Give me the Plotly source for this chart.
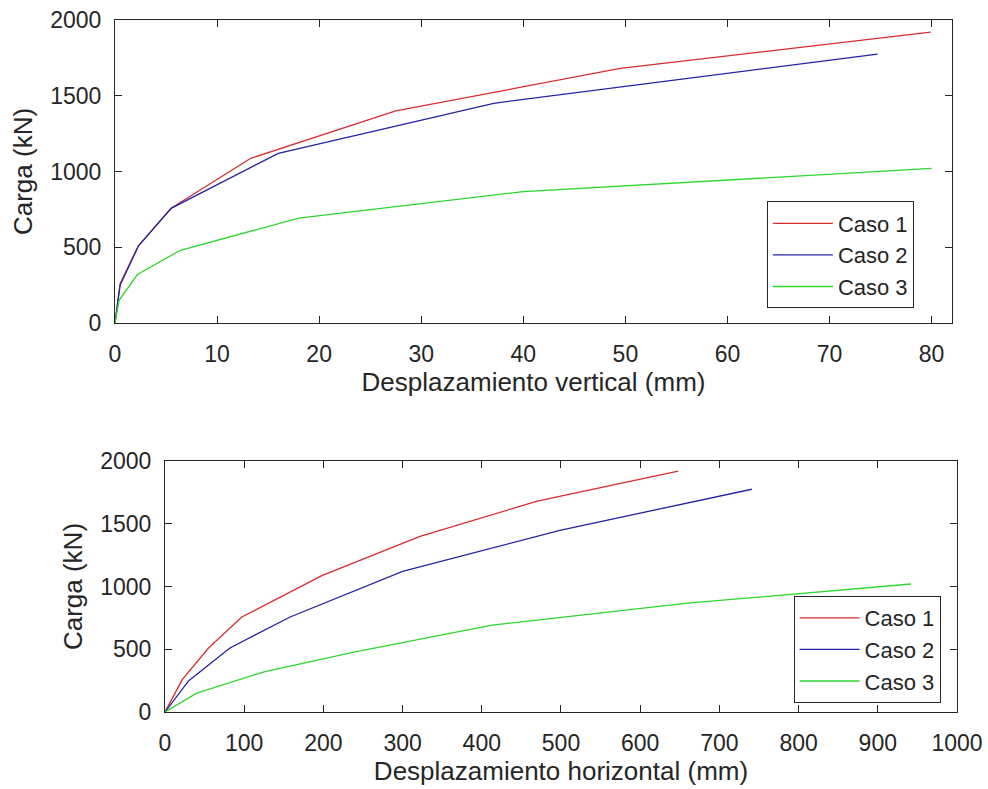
import plotly.graph_objects as go

# Load-displacement curves for three cases
case_names = ["Caso 1", "Caso 2", "Caso 3"]
case_colors = ["rgb(215,45,45)", "rgb(35,35,165)", "rgb(45,215,45)"]

# Caso 1
carga_1 = [0, 260, 510, 757, 1087, 1400, 1680, 1920]
vert_1 = [0, 0.5, 2.3, 5.5, 13.3, 27.5, 49.5, 79.9]
horiz_1 = [0, 22, 55, 97, 198, 322, 470, 648]

# Caso 2
carga_2 = [0, 250, 510, 757, 1120, 1450, 1775]
vert_2 = [0, 0.5, 2.3, 5.5, 16.0, 37.1, 74.7]
horiz_2 = [0, 30, 82, 158, 300, 500, 741]

# Caso 3
carga_3 = [0, 150, 320, 480, 692, 867, 1020]
vert_3 = [0, 0.4, 2.2, 6.4, 18.0, 40.0, 80.0]
horiz_3 = [0, 40, 125, 240, 413, 660, 942]

x_ticks_vert = [0, 10, 20, 30, 40, 50, 60, 70, 80]
x_ticks_horiz = [0, 100, 200, 300, 400, 500, 600, 700, 800, 900, 1000]
y_ticks = [0, 500, 1000, 1500, 2000]

cargas = [carga_1, carga_2, carga_3]
verts = [vert_1, vert_2, vert_3]
horizs = [horiz_1, horiz_2, horiz_3]

FONT = "Liberation Sans, Arial, Helvetica, sans-serif"
INK = "#262626"
TICK_SIZE = 23
TITLE_SIZE = 26
LEGEND_SIZE = 22

fig = go.Figure()

for name, color, xs, ys in zip(case_names, case_colors, verts, cargas):
    fig.add_trace(go.Scatter(x=xs, y=ys, mode="lines", name=name,
                             line=dict(color=color, width=1.3),
                             xaxis="x", yaxis="y", legend="legend"))

for name, color, xs, ys in zip(case_names, case_colors, horizs, cargas):
    fig.add_trace(go.Scatter(x=xs, y=ys, mode="lines", name=name,
                             line=dict(color=color, width=1.3),
                             xaxis="x2", yaxis="y2", legend="legend2"))

axis_common = dict(
    showline=True, linecolor=INK, linewidth=1, mirror="ticks",
    ticks="inside", ticklen=7, tickcolor=INK, tickwidth=1,
    showgrid=False, zeroline=False, automargin=False,
    tickfont=dict(family=FONT, size=TICK_SIZE, color=INK),
)
title_font = dict(family=FONT, size=TITLE_SIZE, color=INK)

fig.update_layout(
    width=988, height=789,
    margin=dict(l=0, r=0, t=0, b=0, autoexpand=False),
    paper_bgcolor="white", plot_bgcolor="white",
    font=dict(family=FONT, color=INK),
    xaxis=dict(domain=[0.1164, 0.9636], range=[0, 82], tickvals=x_ticks_vert,
               ticklabelstandoff=10,
               title=dict(text="Desplazamiento vertical (mm)", font=title_font, standoff=0),
               anchor="y", **axis_common),
    yaxis=dict(domain=[0.5906, 0.9747], range=[0, 2000], tickvals=y_ticks,
               ticklabelstandoff=8,
               title=dict(text="Carga (kN)", font=title_font, standoff=10),
               anchor="x", **axis_common),
    xaxis2=dict(domain=[0.167, 0.9686], range=[0, 1000], tickvals=x_ticks_horiz,
                ticklabelstandoff=10,
                title=dict(text="Desplazamiento horizontal (mm)", font=title_font, standoff=6),
                anchor="y2", **axis_common),
    yaxis2=dict(domain=[0.0976, 0.4157], range=[0, 2000], tickvals=y_ticks,
                ticklabelstandoff=8,
                title=dict(text="Carga (kN)", font=title_font, standoff=10),
                anchor="x2", **axis_common),
    legend=dict(x=0.925, y=0.609, xanchor="right", yanchor="bottom",
                bgcolor="white", bordercolor=INK, borderwidth=1,
                font=dict(family=FONT, size=LEGEND_SIZE, color=INK),
                tracegroupgap=0, itemwidth=60),
    legend2=dict(x=0.952, y=0.109, xanchor="right", yanchor="bottom",
                 bgcolor="white", bordercolor=INK, borderwidth=1,
                 font=dict(family=FONT, size=LEGEND_SIZE, color=INK),
                 tracegroupgap=0, itemwidth=60),
)

fig.write_html("out.html")
